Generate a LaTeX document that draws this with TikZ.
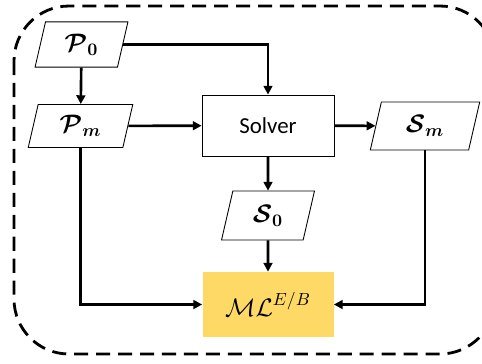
\documentclass[tikz,border=0pt]{standalone}
\usepackage{amsmath,amssymb,bm}
\usepackage{fontspec}
\setsansfont{Carlito}
\usetikzlibrary{shapes.geometric,arrows.meta}

\begin{document}
\begin{tikzpicture}[data/.style={trapezium,trapezium left angle=77,trapezium right angle=103,
                                 draw,line width=0.5pt,inner sep=0pt,
                                 minimum height=0.86cm,minimum width=1.86cm,font=\Large},
                    flow/.style={line width=1.5pt,-{Triangle[length=5pt,width=5pt]}}]
  \useasboundingbox (0,0) rectangle (9.64,-7.26);
  \draw[line width=1.6pt,dash pattern=on 8pt off 4.5pt,rounded corners=1.1cm]
    (0.28,-0.12) rectangle (9.9,-7.08);
  \node[data] (p0) at (1.63,-0.89) {$\bm{\mathcal{P}_{0}}$};
  \node[data] (pm) at (1.61,-2.52) {$\bm{\mathcal{P}_{m}}$};
  \node[draw,line width=0.5pt,minimum width=2.64cm,minimum height=1.22cm,
        font=\sffamily\fontsize{13}{15}\selectfont] (solver) at (5.36,-2.51) {Solver};
  \node[data,minimum height=0.96cm] (sm) at (8.5,-2.52) {$\bm{\mathcal{S}_{m}}$};
  \node[data] (s0) at (5.36,-4.31) {$\bm{\mathcal{S}_{0}}$};
  \node[fill={rgb,255:red,255;green,217;blue,102},minimum width=2.62cm,minimum height=1.3cm,
        font=\Large] (ml) at (5.36,-6.09) {$\mathcal{ML}^{E/B}$};
  \draw[flow] (p0.east) -| (solver.north);
  \draw[flow] (p0) -- (pm);
  \draw[flow] (pm) -- (solver);
  \draw[flow] (solver) -- (sm);
  \draw[flow] (solver) -- (s0);
  \draw[flow] (s0) -- (ml);
  \draw[flow] (pm.south) |- (ml.west);
  \draw[flow] (sm.south) |- (ml.east);
\end{tikzpicture}
\end{document}
